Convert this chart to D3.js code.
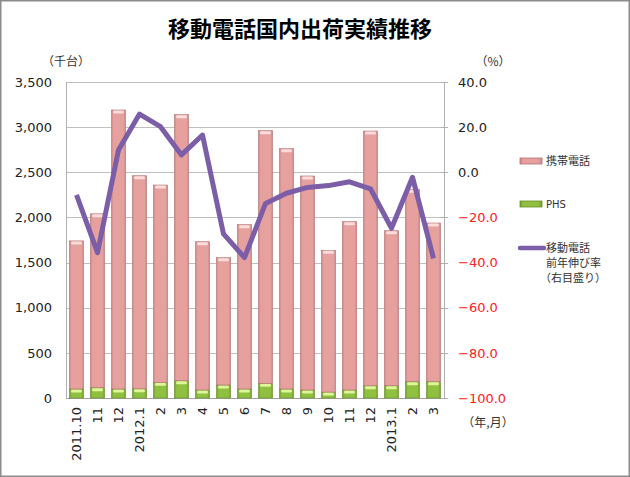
<!DOCTYPE html>
<html><head><meta charset="utf-8">
<script src="https://cdn.jsdelivr.net/npm/d3@7"></script>
<style>body{margin:0;background:#fff}svg{display:block;font-family:"DejaVu Sans","Noto Sans CJK JP",sans-serif}</style>
</head><body><svg id="c" width="630" height="477"></svg>
<script>
const categories = ["2011.10","11","12","2012.1","2","3","4","5","6","7","8","9","10","11","12","2013.1","2","3"];
const phs =    [100,114,100,102,174,192,89,144,100,163,100,89,66,89,136,136,181,181];
const totals = [1740,2040,3190,2462,2359,3138,1731,1554,1920,2961,2762,2459,1636,1953,2957,1853,2311,1938];
const mobile = totals.map((t,i)=>t-phs[i]);
const growth = [-10.0,-35.6,9.9,25.8,20.2,7.7,16.5,-27.3,-37.8,-13.8,-9.3,-6.7,-5.9,-4.2,-7.3,-24.8,-2.2,-38.1];
const leftTicks = [0,500,1000,1500,2000,2500,3000,3500];
const rightTicks = [40,20,0,-20,-40,-60,-80,-100];

const svg = d3.select("#c");
const L=66, R=444, T=82, B=398;
const idx = categories.map((d,i)=>i);
const x = d3.scaleBand().domain(idx).range([L,R]).paddingInner(0.33).paddingOuter(0.165);
const y = d3.scaleLinear().domain([0,3500]).range([B,T]);
const y2 = d3.scaleLinear().domain([-100,40]).range([B,T]);

const defs = svg.append("defs");
function grad(id, edge, mid){
  const g = defs.append("linearGradient").attr("id",id).attr("x1","0").attr("x2","1").attr("y1","0").attr("y2","0");
  g.append("stop").attr("offset","0").attr("stop-color",edge);
  g.append("stop").attr("offset","0.15").attr("stop-color",mid);
  g.append("stop").attr("offset","0.85").attr("stop-color",mid);
  g.append("stop").attr("offset","1").attr("stop-color",edge);
}
grad("gp","#c98886","#e6a09e");
grad("gg","#6f9a2c","#8fc040");

// border
svg.append("rect").attr("x",0.75).attr("y",0.75).attr("width",628.5).attr("height",475.5)
  .attr("fill","#fff").attr("stroke","#8c8c8c").attr("stroke-width",1.5);

// title
svg.append("text").attr("x",300).attr("y",37).attr("text-anchor","middle")
  .attr("font-size",22).attr("font-weight","bold").attr("font-family","'Noto Sans CJK JP',sans-serif")
  .text("移動電話国内出荷実績推移");

// gridlines
svg.append("g").selectAll("line").data(leftTicks).join("line")
  .attr("x1",L).attr("x2",R).attr("y1",d=>Math.round(y(d))+0.5).attr("y2",d=>Math.round(y(d))+0.5)
  .attr("stroke","#c0c0c0").attr("stroke-width",1);
// axes lines
svg.append("line").attr("x1",L+0.5).attr("x2",L+0.5).attr("y1",T).attr("y2",B).attr("stroke","#b0b0b0");
svg.append("line").attr("x1",R+0.5).attr("x2",R+0.5).attr("y1",T).attr("y2",B).attr("stroke","#b0b0b0");
svg.append("line").attr("x1",L).attr("x2",R).attr("y1",B+0.5).attr("y2",B+0.5).attr("stroke","#a0a0a0");

// left axis labels
svg.append("g").selectAll("text").data(leftTicks).join("text")
  .attr("x",52).attr("y",d=>y(d)).attr("dy","0.36em").attr("text-anchor","end")
  .attr("font-size",13).attr("fill","#222").text(d=>d3.format(",")(d));
// right axis ticks and labels
svg.append("g").selectAll("line").data(rightTicks).join("line")
  .attr("x1",R-3).attr("x2",R+4).attr("y1",d=>Math.round(y2(d))+0.5).attr("y2",d=>Math.round(y2(d))+0.5)
  .attr("stroke","#b0b0b0");
svg.append("g").selectAll("text").data(rightTicks).join("text")
  .attr("x",458).attr("y",d=>y2(d)).attr("dy","0.36em")
  .attr("font-size",13).attr("fill",d=>d<0?"#ff2020":"#222").text(d=>d3.format(".1f")(d));

// units
svg.append("text").attr("x",66).attr("y",66).attr("text-anchor","middle").attr("font-size",12)
  .attr("fill","#333").attr("font-family","'Noto Sans CJK JP',sans-serif").text("（千台）");
svg.append("text").attr("x",493).attr("y",66).attr("text-anchor","middle").attr("font-size",12)
  .attr("fill","#333").attr("font-family","'Noto Sans CJK JP',sans-serif").text("（%）");
svg.append("text").attr("x",488).attr("y",427).attr("text-anchor","middle").attr("font-size",12)
  .attr("fill","#333").attr("font-family","'Noto Sans CJK JP',sans-serif").text("（年,月）");

// bars
const bw = x.bandwidth();
const gb = svg.append("g");
// PHS
gb.selectAll(".phs").data(idx).join("rect").attr("class","phs")
  .attr("x",i=>x(i)).attr("width",bw).attr("y",i=>y(phs[i])).attr("height",i=>y(0)-y(phs[i]))
  .attr("fill","url(#gg)").attr("stroke","#6a8f2a").attr("stroke-width",0.6);
gb.selectAll(".phscap").data(idx).join("rect").attr("class","phscap")
  .attr("x",i=>x(i)+1.5).attr("width",bw-3).attr("y",i=>y(phs[i])+0.5).attr("height",3).attr("rx",1.5)
  .attr("fill","#dff59a");
// mobile
gb.selectAll(".mob").data(idx).join("rect").attr("class","mob")
  .attr("x",i=>x(i)).attr("width",bw).attr("y",i=>y(totals[i])).attr("height",i=>y(phs[i])-y(totals[i]))
  .attr("fill","url(#gp)").attr("stroke","#b27472").attr("stroke-width",0.6);
gb.selectAll(".mobcap").data(idx).join("rect").attr("class","mobcap")
  .attr("x",i=>x(i)+1.5).attr("width",bw-3).attr("y",i=>y(totals[i])+0.5).attr("height",3).attr("rx",1.5)
  .attr("fill","#fbdcdb");

// line
const line = d3.line().x(i=>x(i)+bw/2).y(i=>y2(growth[i]));
svg.append("path").datum(idx).attr("d",line).attr("fill","none")
  .attr("stroke","#7b5ea7").attr("stroke-width",5).attr("stroke-linejoin","round");

// x labels
svg.append("g").selectAll("text").data(idx).join("text")
  .attr("transform",i=>`translate(${x(i)+bw/2},407) rotate(-90)`)
  .attr("text-anchor","end").attr("dy","0.36em").attr("font-size",13).attr("fill","#222")
  .text(i=>categories[i]);

// legend
const lg = svg.append("g").attr("font-family","'Noto Sans CJK JP',sans-serif").attr("fill","#333");
lg.append("rect").attr("x",520).attr("y",158).attr("width",22).attr("height",6)
  .attr("fill","url(#gp)").attr("stroke","#b27472").attr("stroke-width",0.8);
lg.append("text").attr("x",546).attr("y",161).attr("dy","0.36em").attr("font-size",11).text("携帯電話");
lg.append("rect").attr("x",520).attr("y",201).attr("width",22).attr("height",6)
  .attr("fill","url(#gg)").attr("stroke","#6a8f2a").attr("stroke-width",0.8);
lg.append("text").attr("x",546).attr("y",204).attr("dy","0.36em").attr("font-size",10)
  .attr("font-family","'DejaVu Sans',sans-serif").text("PHS");
lg.append("line").attr("x1",520).attr("x2",544).attr("y1",248).attr("y2",248)
  .attr("stroke","#7b5ea7").attr("stroke-width",4.5).attr("stroke-linecap","round");
lg.append("text").attr("x",546).attr("y",248).attr("dy","0.36em").attr("font-size",11).text("移動電話");
lg.append("text").attr("x",546).attr("y",263).attr("dy","0.36em").attr("font-size",11).text("前年伸び率");
lg.append("text").attr("x",540).attr("y",278).attr("dy","0.36em").attr("font-size",11).text("（右目盛り）");
</script></body></html>
